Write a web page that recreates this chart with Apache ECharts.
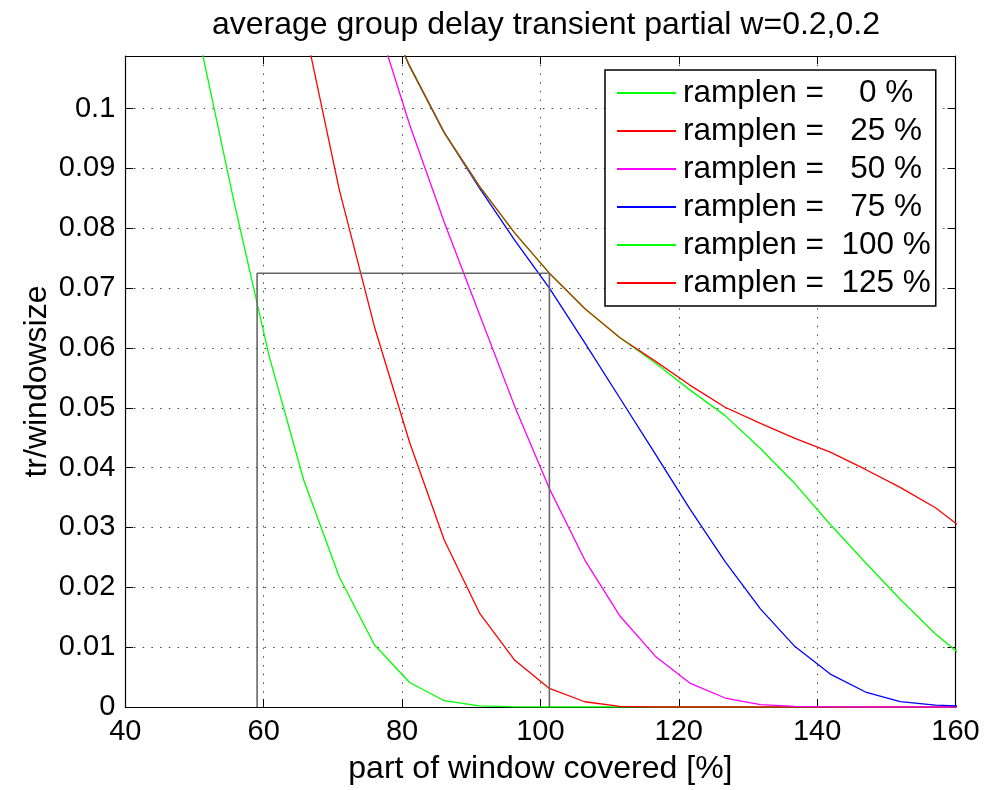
<!DOCTYPE html>
<html>
<head>
<meta charset="utf-8">
<title>average group delay transient partial</title>
<script src="https://cdn.jsdelivr.net/npm/echarts@6/dist/echarts.min.js"></script>
<style>
  html, body { margin: 0; padding: 0; background: #fff; }
  #chart { width: 988px; height: 790px; }
</style>
</head>
<body>
<div id="chart"></div>
<script>
// Part of the window covered [%] at which each transient was evaluated
const coverage = [40.5, 45.6, 50.6, 55.7, 60.8, 65.8, 70.9, 76.0, 81.1, 86.1, 91.2, 96.3,
                  101.3, 106.4, 111.5, 116.6, 121.6, 126.7, 131.8, 136.8, 141.9, 147.0, 152.0, 157.1, 162.2];

// tr/windowsize for each ramp length (null = not computed / off scale)
const ramp0   = [null, 0.146, 0.1122, 0.0845, 0.0586, 0.0379, 0.0218, 0.0104, 0.0041, 0.00105, 0.0002, 0.00003,
                 0, 0, 0, 0, 0, 0, 0, 0, 0, 0, 0, 0, 0];
const ramp25  = [null, null, null, null, null, 0.1145, 0.0866, 0.0636, 0.0442, 0.0279, 0.0157, 0.0078,
                 0.0031, 0.00088, 0.0001, 0, 0, 0, 0, 0, 0, 0, 0, 0, 0];
const ramp50  = [null, null, null, null, null, null, null, 0.116, 0.0973, 0.0810, 0.0656, 0.0502,
                 0.0365, 0.0246, 0.0152, 0.0085, 0.0040, 0.0015, 0.0004, 0.0001, 0.00002, 0, 0, 0, 0];
const ramp75  = [null, null, null, null, null, null, null, 0.1204, 0.1071, 0.0960, 0.0867, 0.0780,
                 0.0700, 0.0609, 0.0516, 0.0423, 0.0331, 0.0243, 0.0164, 0.0101, 0.0055, 0.0025, 0.0009, 0.0003, 0.0001];
const ramp100 = [null, null, null, null, null, null, null, 0.1204, 0.1071, 0.0960, 0.0870, 0.0792,
                 0.0725, 0.0666, 0.0617, 0.0575, 0.0530, 0.0487, 0.0432, 0.0373, 0.0305, 0.0241, 0.0180, 0.0122, 0.0074];
const ramp125 = [null, null, null, null, null, null, null, 0.1204, 0.1071, 0.0960, 0.0870, 0.0792,
                 0.0725, 0.0666, 0.0617, 0.0578, 0.0538, 0.0501, 0.0474, 0.0449, 0.0426, 0.0397, 0.0367, 0.0333, 0.0288];

const seriesNames = ['ramplen =    0 %', 'ramplen =   25 %', 'ramplen =   50 %',
                     'ramplen =   75 %', 'ramplen =  100 %', 'ramplen =  125 %'];
const seriesColors = ['#00ff00', '#ff0000', '#ff00ff', '#0000ff', '#00ff00', '#ff0000'];
const seriesValues = [ramp0, ramp25, ramp50, ramp75, ramp100, ramp125];

// Marked region: coverage window and transient level
const regionX = [59.05, 59.05, 101.3, 101.3];
const regionY = [0, 0.0725, 0.0725, 0];

const xTicks = { min: 40, max: 160, step: 20 };
const yTicks = { min: 0, max: 0.1088, step: 0.01 };

// Coverage up to which the 100 % and 125 % curves coincide (drawn as a blended trace)
const sharedUntil = 113.3;
const sharedColor = '#b83a00';

const FONT = 'Liberation Sans, Arial, Helvetica, sans-serif';

function pairs(xs, ys) { return xs.map((x, i) => [x, ys[i]]); }

const chart = echarts.init(document.getElementById('chart'), null, { renderer: 'canvas' });

const curveSeries = seriesValues.map((vals, i) => ({
  name: seriesNames[i],
  type: 'line',
  xAxisIndex: 0,
  yAxisIndex: 0,
  data: pairs(coverage, vals),
  symbol: 'none',
  smooth: false,
  clip: true,
  animation: false,
  color: seriesColors[i],
  lineStyle: { color: seriesColors[i], width: 1.3 },
  z: 3
}));

const regionSeries = {
  name: 'region',
  type: 'line',
  xAxisIndex: 0,
  yAxisIndex: 0,
  data: pairs(regionX, regionY),
  symbol: 'none',
  animation: false,
  lineStyle: { color: '#666666', width: 1.6 },
  z: 4
};

const tickFmt = v => {
  const r = Math.round(v / yTicks.step);
  if (Math.abs(v - r * yTicks.step) > 1e-9) return '';
  return String(+(r * yTicks.step).toFixed(2));
};

const gridLine = { show: true, lineStyle: { color: '#444', width: 1, type: [1.5, 7.2] } };
const boxLine = { show: true, onZero: false, lineStyle: { color: '#000', width: 1.2 } };
const innerTick = { show: true, inside: true, length: 8, lineStyle: { color: '#000', width: 1 } };

chart.setOption({
  backgroundColor: '#fff',
  animation: false,
  title: {
    text: 'average group delay transient partial w=0.2,0.2',
    left: 541,
    textAlign: 'center',
    top: 4,
    textStyle: { fontFamily: FONT, fontSize: 32, fontWeight: 'normal', color: '#000' }
  },
  grid: { left: 125.3, right: 32.5, top: 56, bottom: 78.7, containLabel: false },
  legend: {
    data: seriesNames,
    orient: 'vertical',
    left: 605,
    top: 70,
    padding: [7, 5, 7, 12],
    itemGap: 6,
    itemWidth: 59,
    itemHeight: 2,
    icon: 'rect',
    borderColor: '#000',
    borderWidth: 1.5,
    backgroundColor: '#fff',
    selectedMode: false,
    textStyle: { fontFamily: FONT, fontSize: 31.5, color: '#000', lineHeight: 30, padding: [0, 0, 0, 2] }
  },
  xAxis: [
    {
      type: 'value', position: 'bottom', min: xTicks.min, max: xTicks.max, interval: xTicks.step,
      name: 'part of window covered [%]', nameLocation: 'middle', nameGap: 46,
      nameTextStyle: { fontFamily: FONT, fontSize: 32, color: '#000' },
      axisLine: boxLine, axisTick: innerTick,
      axisLabel: { fontFamily: FONT, fontSize: 29, color: '#000', margin: 10 },
      splitLine: gridLine
    },
    {
      type: 'value', position: 'top', min: xTicks.min, max: xTicks.max, interval: xTicks.step,
      axisLine: boxLine, axisTick: innerTick, axisLabel: { show: false }, splitLine: { show: false }
    }
  ],
  yAxis: [
    {
      type: 'value', position: 'left', min: yTicks.min, max: yTicks.max, interval: yTicks.step,
      name: 'tr/windowsize', nameLocation: 'middle', nameGap: 72, nameMoveOverlap: false,
      nameTextStyle: { fontFamily: FONT, fontSize: 32, color: '#000' },
      axisLine: boxLine, axisTick: innerTick,
      axisLabel: { fontFamily: FONT, fontSize: 29, color: '#000', margin: 10, formatter: tickFmt, showMaxLabel: false },
      splitLine: gridLine
    },
    {
      type: 'value', position: 'right', min: yTicks.min, max: yTicks.max, interval: yTicks.step,
      axisLine: boxLine, axisTick: innerTick, axisLabel: { show: false }, splitLine: { show: false }
    }
  ],
  series: curveSeries.concat([regionSeries])
});

// The top trace is shared by several curves; tint it where they coincide.
const splitPx = chart.convertToPixel({ xAxisIndex: 0 }, sharedUntil);
const w = chart.getWidth();
const f = splitPx / w;
const topGradient = new echarts.graphic.LinearGradient(0, 0, w, 0, [
  { offset: 0, color: sharedColor },
  { offset: f - 0.004, color: sharedColor },
  { offset: f + 0.004, color: '#ff0000' },
  { offset: 1, color: '#ff0000' }
], true);
chart.setOption({
  series: [{}, {}, {}, {}, {}, { lineStyle: { color: topGradient } }]
});
</script>
</body>
</html>
